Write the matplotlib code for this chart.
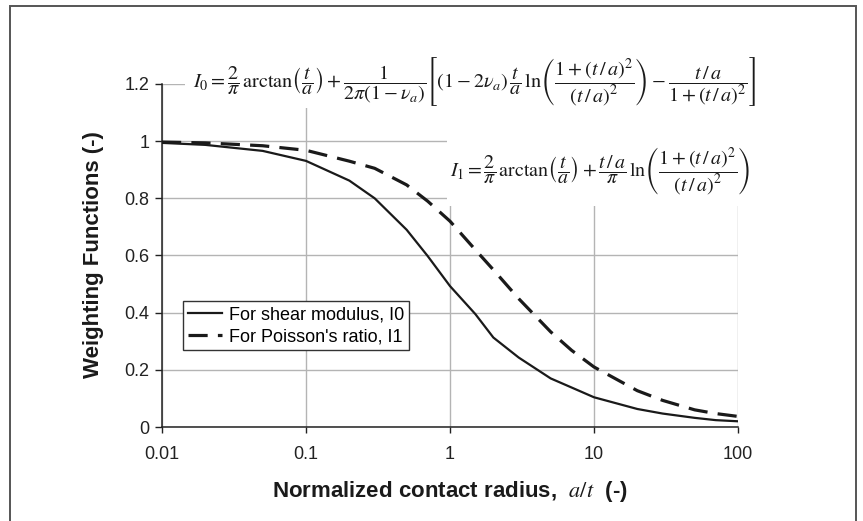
import matplotlib
matplotlib.use("Agg")
import matplotlib.pyplot as plt
from matplotlib.patches import Rectangle
from matplotlib.ticker import FixedLocator, FixedFormatter, NullLocator

plt.rcParams['font.family'] = ['Liberation Sans', 'DejaVu Sans']
plt.rcParams['mathtext.fontset'] = 'stix'

# ---- data ----
contact_radius = [0.01, 0.02, 0.05, 0.1, 0.2, 0.3, 0.5, 0.7, 1, 1.5, 2, 3, 5, 7, 10, 20, 30, 50, 70, 100]
shear_I0 = [0.994, 0.987, 0.966, 0.931, 0.862, 0.800, 0.690, 0.598, 0.493, 0.395, 0.313, 0.243, 0.170,
            0.138, 0.104, 0.063, 0.047, 0.032, 0.024, 0.020]
poisson_I1 = [0.997, 0.994, 0.984, 0.968, 0.930, 0.905, 0.847, 0.790, 0.720, 0.620, 0.550, 0.449, 0.333,
              0.268, 0.210, 0.127, 0.093, 0.060, 0.047, 0.037]
x_ticks = [0.01, 0.1, 1, 10, 100]
x_tick_labels = ["0.01", "0.1", "1", "10", "100"]
y_ticks = [0, 0.2, 0.4, 0.6, 0.8, 1.0, 1.2]
y_tick_labels = ["0", "0.2", "0.4", "0.6", "0.8", "1", "1.2"]
legend_labels = ["For shear modulus, I0", "For Poisson's ratio, I1"]

W, H = 863, 521
fig = plt.figure(figsize=(W / 100, H / 100), dpi=100)

def px(x0, y0, x1, y1):
    """pixel box (top-left origin) -> figure fraction (left, bottom, width, height)"""
    return x0 / W, 1 - y1 / H, (x1 - x0) / W, (y1 - y0) / H

# outer frame
l, b, w, h = px(10, 6, 856, 530)
fig.patches.append(Rectangle((l, b), w, h, transform=fig.transFigure, fill=False,
                             edgecolor='#555555', linewidth=1.4))

ax = fig.add_axes(px(162, 84, 738, 427))
ax.set_xscale('log')
ax.set_xlim(0.01, 100)
ax.set_ylim(0, 1.2)

ax.plot(contact_radius, shear_I0, color='#1a1a1a', lw=1.6, zorder=3, label=legend_labels[0])
ax.plot(contact_radius, poisson_I1, color='#1a1a1a', lw=2.3, ls=(0, (6, 3.2)), zorder=3,
        label=legend_labels[1])

ax.xaxis.set_major_locator(FixedLocator(x_ticks))
ax.xaxis.set_major_formatter(FixedFormatter(x_tick_labels))
ax.xaxis.set_minor_locator(NullLocator())
ax.yaxis.set_major_locator(FixedLocator(y_ticks))
ax.yaxis.set_major_formatter(FixedFormatter(y_tick_labels))

ax.grid(True, which='major', color='#b4b4b4', lw=1.0)
ax.set_axisbelow(True)
for s in ['top', 'right']:
    ax.spines[s].set_visible(False)
for s in ['left', 'bottom']:
    ax.spines[s].set_color('#222222')
    ax.spines[s].set_linewidth(1.1)

ax.tick_params(axis='x', direction='out', length=4, width=1, color='#222222', pad=10,
               labelsize=13, labelcolor='#222222')
ax.tick_params(axis='y', direction='out', length=5, width=1, color='#222222', pad=4,
               labelsize=13, labelcolor='#222222')

# white masks behind the equations
for (x0, y0, x1, y1) in [(185, 35, 775, 108), (447, 100, 765, 206)]:
    l, b, w, h = px(x0, y0, x1, y1)
    ax.add_patch(Rectangle((l, b), w, h, transform=fig.transFigure, facecolor='white',
                           edgecolor='none', zorder=1.5, clip_on=False))

eq0 = (r"$I_0=\dfrac{2}{\pi}\,\arctan\!\left(\dfrac{t}{a}\right)+\dfrac{1}{2\pi(1-\nu_a)}"
       r"\left[(1-2\nu_a)\,\dfrac{t}{a}\,\ln\!\left(\dfrac{1+(t\,/\,a)^2}{(t\,/\,a)^2}\right)"
       r"-\dfrac{t\,/\,a}{1+(t\,/\,a)^2}\right]$")
eq1 = (r"$I_1=\dfrac{2}{\pi}\,\arctan\!\left(\dfrac{t}{a}\right)+\dfrac{t\,/\,a}{\pi}\,"
       r"\ln\!\left(\dfrac{1+(t\,/\,a)^2}{(t\,/\,a)^2}\right)$")
fig.text(193 / W, 1 - 82 / H, eq0, fontsize=14.5, ha='left', va='center', color='#1a1a1a', zorder=5)
fig.text(450 / W, 1 - 171 / H, eq1, fontsize=14.3, ha='left', va='center', color='#1a1a1a', zorder=5)

leg = ax.legend(loc='upper left', bbox_to_anchor=(0.036, 0.367), borderaxespad=0,
                fontsize=13, frameon=True, fancybox=False, framealpha=1,
                handlelength=1.9, handletextpad=0.35, labelspacing=0.25, borderpad=0.3)
leg.get_frame().set_edgecolor('#333333')
leg.get_frame().set_linewidth(1.0)
leg.set_zorder(6)

fig.text(450 / W, 1 - 497 / H, r"Normalized contact radius,  $a/t$  (-)", fontsize=16,
         fontweight='bold', ha='center', va='baseline', color='#1a1a1a')
fig.text(93 / W, 1 - 255 / H, "Weighting Functions (-)", fontsize=16, fontweight='bold',
         rotation=90, ha='center', va='center', color='#1a1a1a')

fig.savefig("out.png", dpi=100)
